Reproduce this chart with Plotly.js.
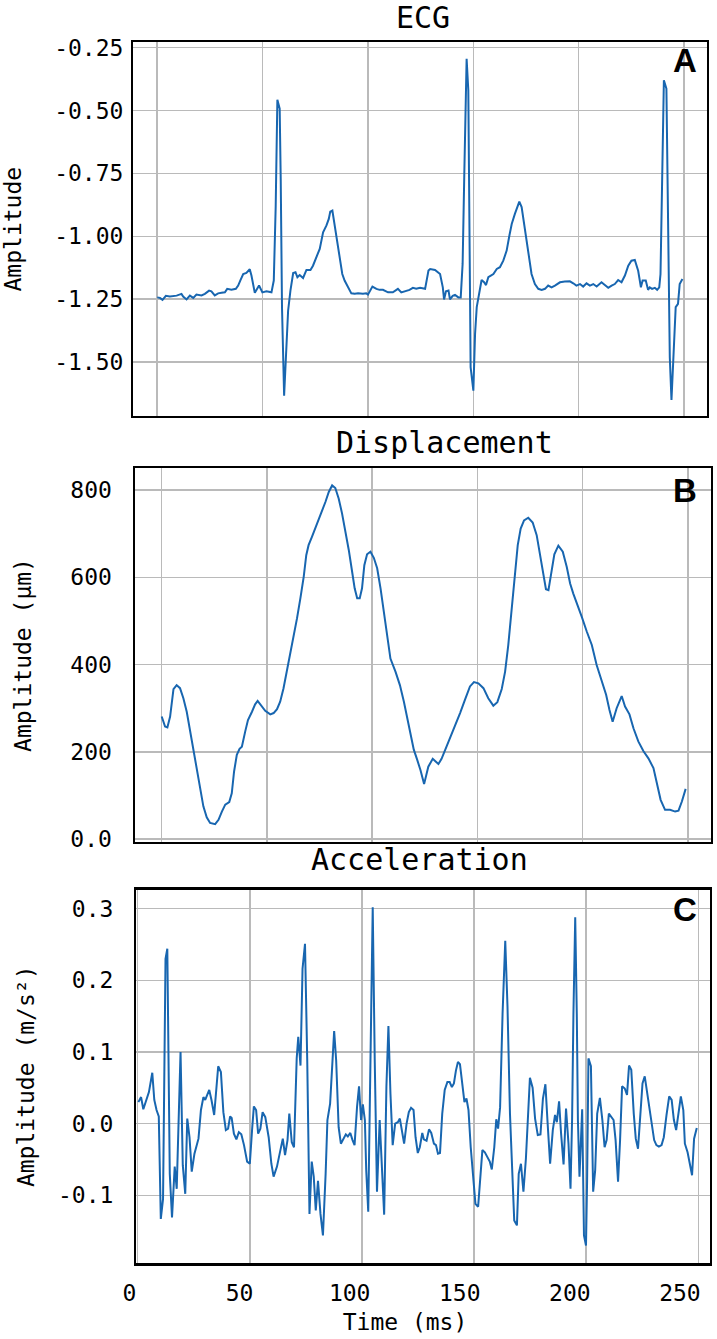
<!DOCTYPE html>
<html>
<head>
<meta charset="utf-8">
<script src="https://cdn.plot.ly/plotly-3.0.1.min.js"></script>
<style>html,body{margin:0;padding:0;background:#fff;}#chart{width:717px;height:1339px;}</style>
</head>
<body>
<div id="chart"></div>
<script>
// ---------- data ----------
const ecgTime = [0,1.3,2.5,4.1,6.0,9.2,11.5,12.3,13.9,15.5,17.1,18.6,21.0,22.6,24.6,25.7,27.3,28.9,30.5,32.1,33.2,35.2,37.3,38.4,39.5,40.8,42.3,43.9,44.7,46.3,48.3,49.9,51.8,54.2,55.3,56.2,57.0,58.1,58.6,59.2,60.2,61.3,62.1,63.2,64.5,65.6,66.5,67.6,69.2,70.8,72.7,73.9,75.5,77.1,78.7,80.3,81.4,82.1,83.1,83.7,85.0,86.6,87.8,88.9,90.5,92.1,93.7,95.3,97.6,99.2,100.0,102.1,104.0,105.5,107.1,109.5,111.8,114.2,115.8,117.4,119.7,121.3,122.9,124.7,127.1,128.7,129.5,131.8,134.2,135.5,136.1,137.0,138.2,138.9,140.2,141.3,142.9,144.0,144.9,145.7,146.8,147.6,148.1,148.7,150.0,150.8,151.6,152.8,153.9,155.1,156.0,157.1,158.2,159.5,161.1,162.6,164.2,165.8,167.1,168.2,169.7,170.9,171.8,172.9,174.5,176.1,177.6,179.2,180.8,182.4,184.0,185.5,187.1,188.7,191.1,193.4,195.8,197.4,198.9,200.6,202.1,203.7,205.3,206.9,208.5,210.8,212.4,214.0,215.6,217.1,218.7,220.3,221.9,223.5,225.0,226.6,228.2,229.5,230.3,231.8,232.9,233.7,234.8,236.1,237.2,238.2,238.8,239.6,240.4,241.6,242.4,243.2,244.0,245.1,246.0,247.1,247.9,249.2];
const ecgAmp = [-1.243,-1.245,-1.253,-1.237,-1.239,-1.236,-1.229,-1.240,-1.251,-1.236,-1.245,-1.232,-1.235,-1.229,-1.216,-1.219,-1.235,-1.227,-1.225,-1.223,-1.209,-1.213,-1.209,-1.196,-1.174,-1.150,-1.146,-1.131,-1.156,-1.225,-1.196,-1.223,-1.219,-1.223,-1.176,-0.884,-0.457,-0.493,-0.778,-1.282,-1.634,-1.415,-1.296,-1.216,-1.146,-1.143,-1.163,-1.154,-1.166,-1.134,-1.134,-1.117,-1.083,-1.050,-0.984,-0.957,-0.931,-0.902,-0.898,-0.931,-1.004,-1.083,-1.150,-1.176,-1.203,-1.227,-1.229,-1.227,-1.229,-1.227,-1.232,-1.200,-1.209,-1.213,-1.213,-1.223,-1.223,-1.209,-1.223,-1.219,-1.213,-1.205,-1.209,-1.205,-1.209,-1.136,-1.130,-1.134,-1.150,-1.203,-1.251,-1.219,-1.216,-1.251,-1.237,-1.233,-1.243,-1.243,-1.110,-0.752,-0.294,-0.420,-0.884,-1.521,-1.614,-1.389,-1.282,-1.229,-1.174,-1.183,-1.194,-1.163,-1.156,-1.150,-1.130,-1.123,-1.097,-1.057,-0.997,-0.951,-0.911,-0.878,-0.862,-0.884,-0.977,-1.083,-1.150,-1.190,-1.209,-1.213,-1.209,-1.196,-1.203,-1.196,-1.183,-1.180,-1.179,-1.187,-1.196,-1.190,-1.200,-1.187,-1.196,-1.190,-1.200,-1.183,-1.194,-1.205,-1.196,-1.190,-1.174,-1.183,-1.156,-1.117,-1.097,-1.094,-1.137,-1.203,-1.176,-1.176,-1.213,-1.203,-1.209,-1.205,-1.213,-1.203,-1.150,-0.752,-0.380,-0.413,-0.977,-1.481,-1.651,-1.415,-1.282,-1.269,-1.190,-1.170];

const dispTime = [0,1.6,2.7,4.0,5.6,7.1,8.7,10.3,11.9,13.5,15.1,16.7,18.3,19.8,21.4,23.0,25.4,27.0,28.6,30.2,32.1,33.3,34.4,35.7,37.0,38.1,39.7,41.0,42.9,44.4,45.6,46.8,49.2,51.6,53.2,54.8,56.3,57.9,59.5,61.1,62.7,64.3,65.9,67.5,68.7,69.8,71.4,73.0,74.6,76.2,77.8,79.4,81.0,82.5,84.1,85.7,87.3,88.9,90.5,91.7,92.9,94.1,95.2,96.3,97.6,99.2,100.8,102.4,104.0,105.6,107.1,108.7,111.1,113.2,115.1,116.7,118.3,119.8,121.4,123.0,124.7,126.7,128.8,130.3,131.5,133.0,135.4,138.6,141.8,144.1,146.5,148.4,150.5,152.9,155.2,157.6,159.5,161.6,163.2,164.7,166.3,167.9,169.2,170.6,172.2,174.2,176.3,178.2,179.8,181.4,182.6,183.8,185.0,186.6,188.5,190.6,192.5,194.1,195.6,197.7,199.6,202.0,204.4,206.7,209.1,211.2,212.8,214.3,216.2,218.6,220.2,222.3,224.2,226.5,228.9,231.3,233.7,235.6,237.1,239.2,241.6,244.0,245.6,247.2,249.0];
const dispAmp = [281,258,256,281,344,353,346,323,292,247,201,155,113,75,50,37,34,44,63,79,85,105,155,193,207,212,247,273,292,309,317,309,294,286,289,298,315,346,384,422,460,506,552,602,651,674,693,712,731,750,773,796,811,805,781,747,708,663,613,575,552,552,575,628,653,659,645,621,575,521,468,414,384,353,315,277,239,205,182,158,126,166,184,176,172,184,212,250,289,319,350,360,357,346,323,306,314,344,384,445,529,613,674,712,731,737,726,697,655,605,573,571,605,653,673,659,624,586,563,537,510,476,445,399,365,331,296,269,300,328,304,286,254,224,202,185,163,124,90,67,67,63,65,86,115];

const accTime = [0.3,1.5,2.5,4.0,5.0,6.5,7.4,8.4,9.4,10.3,11.3,12.4,13.2,14.3,15.3,16.5,17.4,19.1,20.1,21.2,22.1,23.1,24.1,25.3,27.1,28.2,29.3,30.1,31.9,32.9,34.1,35.9,37.1,38.2,39.3,40.3,41.2,41.9,42.9,44.0,45.1,46.2,47.4,48.8,50.0,51.0,51.8,52.8,53.7,54.7,55.7,56.9,58.4,59.6,60.6,62.1,63.5,64.7,65.7,66.8,67.6,68.7,69.7,70.9,71.6,72.6,73.5,74.6,75.6,76.6,77.6,78.5,79.4,80.4,81.5,82.6,83.8,84.6,85.8,86.6,87.6,88.5,89.6,90.6,91.8,92.8,93.7,94.8,95.8,96.7,97.8,98.7,99.6,100.4,101.3,101.9,102.8,103.7,104.8,105.7,106.7,107.9,109.0,109.9,110.9,111.8,112.7,113.7,114.8,116.0,116.9,117.9,118.8,119.9,120.9,121.9,123.0,123.9,124.9,125.8,126.9,127.6,128.8,129.9,130.9,132.1,133.0,133.9,134.8,135.8,136.9,138.1,139.1,140.1,141.0,141.9,142.8,143.7,144.8,145.7,146.6,147.5,148.5,149.6,150.6,151.8,152.7,153.7,154.8,156.0,157.0,157.9,159.0,159.9,160.7,161.6,162.7,163.9,164.9,166.0,167.0,167.9,169.1,169.9,170.9,172.0,173.1,173.9,174.9,176.1,177.2,178.4,179.6,180.7,181.8,182.8,183.9,185.1,186.1,186.9,187.9,188.8,189.9,191.0,192.1,193.0,193.7,194.3,195.1,195.8,196.3,197.0,198.2,199.0,199.9,200.4,201.0,202.1,203.1,204.0,204.9,206.1,207.2,208.2,209.1,210.1,211.2,212.2,213.1,214.2,215.1,216.0,217.2,218.2,219.1,220.1,221.2,222.1,223.1,224.2,225.1,226.1,227.2,228.4,229.4,230.3,231.3,232.4,233.6,234.6,235.8,237.0,238.1,239.1,240.1,241.3,242.2,243.3,244.0,245.2,246.3,247.2,248.1,249.3];
const accAmp = [0.030,0.037,0.020,0.033,0.044,0.071,0.033,0.019,0.010,-0.133,-0.105,0.230,0.244,-0.070,-0.131,-0.060,-0.091,0.100,-0.058,-0.098,0.007,-0.019,-0.067,-0.042,-0.021,0.019,0.037,0.033,0.047,0.033,0.012,0.080,0.072,0.016,-0.009,-0.007,0.010,0.008,-0.014,-0.022,-0.012,-0.015,-0.030,-0.053,-0.056,-0.009,0.024,0.019,-0.014,-0.007,0.016,0.009,-0.019,-0.056,-0.074,-0.060,-0.037,-0.021,-0.044,-0.023,0.014,-0.026,-0.033,0.091,0.121,0.081,0.216,0.251,0.088,-0.126,-0.053,-0.074,-0.121,-0.080,-0.126,-0.156,-0.070,0.005,0.028,0.079,0.129,0.088,-0.005,-0.028,-0.021,-0.015,-0.018,-0.013,-0.023,-0.030,0.023,0.052,0.005,0.027,0.005,-0.065,-0.123,0.051,0.302,0.088,-0.095,0.005,-0.060,-0.127,0.051,0.136,0.042,-0.030,0.000,0.002,0.007,-0.014,-0.028,0.000,0.016,0.022,0.019,-0.019,-0.041,-0.033,-0.013,-0.022,-0.024,-0.008,-0.013,-0.028,-0.030,-0.042,-0.041,0.014,0.047,0.058,0.058,0.051,0.056,0.074,0.086,0.083,0.056,0.030,0.035,0.019,-0.033,-0.081,-0.112,-0.116,-0.074,-0.037,-0.040,-0.047,-0.053,-0.064,-0.033,0.006,-0.007,0.023,0.153,0.255,0.163,0.014,-0.079,-0.135,-0.142,-0.070,-0.056,-0.095,-0.049,0.000,0.064,0.050,0.007,-0.016,-0.015,0.035,0.055,0.000,-0.056,-0.009,0.012,0.002,0.031,-0.014,-0.057,0.021,-0.028,-0.091,0.005,0.153,0.288,0.153,0.005,-0.074,0.020,-0.156,-0.170,-0.079,0.091,0.080,-0.095,-0.065,0.014,0.036,0.005,-0.033,-0.023,0.014,0.010,0.005,-0.023,-0.081,-0.023,0.052,0.049,0.040,0.081,0.075,0.014,-0.021,-0.035,0.012,0.056,0.066,0.044,0.019,-0.005,-0.023,-0.030,-0.032,-0.030,-0.019,0.012,0.038,0.033,0.005,-0.009,0.023,0.038,0.019,-0.028,-0.040,-0.058,-0.072,-0.021,-0.006];

// tick definitions
const timeTicks = [0, 50, 100, 150, 200, 250];
const timeTickText = ['0', '50', '100', '150', '200', '250'];
const ecgTicks = [-0.25, -0.5, -0.75, -1.0, -1.25, -1.5];
const ecgTickText = ['-0.25', '-0.50', '-0.75', '-1.00', '-1.25', '-1.50'];
const dispTicks = [0, 200, 400, 600, 800];
const dispTickText = ['0.0', '200', '400', '600', '800'];
const accTicks = [-0.1, 0, 0.1, 0.2, 0.3];
const accTickText = ['-0.1', '0.0', '0.1', '0.2', '0.3'];

const panelTitles = ['ECG', 'Displacement', 'Acceleration'];
const panelLetters = ['A', 'B', 'C'];
const yTitles = ['Amplitude', 'Amplitude (μm)', 'Amplitude (m/s²)'];
const xTitle = 'Time (ms)';

// ---------- styling ----------
const LINE = '#1866b0';
const GRID = '#bababa';
const MONO = 'DejaVu Sans Mono, monospace';
const tickFont = {family: MONO, size: 23, color: '#000'};
const axTitleFont = {family: MONO, size: 23, color: '#000'};
const titleFont = {family: MONO, size: 30, color: '#000'};
const letterFont = {family: 'Liberation Sans, Arial, sans-serif', size: 33, color: '#000'};

function trace(x, y, xa, ya) {
  return {x: x, y: y, xaxis: xa, yaxis: ya, type: 'scatter', mode: 'lines',
          line: {color: LINE, width: 2}, hoverinfo: 'skip', showlegend: false};
}

const baseX = {
  tickmode: 'array', tickvals: timeTicks, ticktext: timeTickText,
  showgrid: true, gridcolor: GRID, gridwidth: 1.5,
  showline: true, linecolor: '#000', linewidth: 2, mirror: true,
  ticks: '', zeroline: false, tickfont: tickFont
};
const baseY = {
  showgrid: true, gridcolor: GRID, gridwidth: 1.5,
  showline: true, linecolor: '#000', linewidth: 2, mirror: true,
  ticks: '', zeroline: false, tickfont: tickFont, tickmode: 'array'
};

// plot area starts at 120 px (margin.l); domains are fractions of the 592 px wide area
const domA = [0.02196, 0.99206], domB = [0.02618, 0.99780], domC = [0.02703, 0.99662];
const domLabels = [0.00845, 0.95439];

const layout = {
  width: 717, height: 1339,
  margin: {l: 120, r: 5, t: 42, b: 76},
  paper_bgcolor: '#ffffff', plot_bgcolor: 'rgba(0,0,0,0)',
  showlegend: false,
  xaxis: Object.assign({}, baseX, {domain: domA, range: [-11.5, 261.0], anchor: 'y', showticklabels: false}),
  yaxis: Object.assign({}, baseY, {domain: [0.6934, 1.0], range: [-1.716, -0.2277], anchor: 'x',
          tickvals: ecgTicks, ticktext: ecgTickText, ticklabelstandoff: 3,
          title: {text: yTitles[0], font: axTitleFont, standoff: 30}}),
  xaxis2: Object.assign({}, baseX, {domain: domB, range: [-12.45, 260.9], anchor: 'y2', showticklabels: false}),
  yaxis2: Object.assign({}, baseY, {domain: [0.345, 0.6509], range: [-6.2, 850.4], anchor: 'x2',
          tickvals: dispTicks, ticktext: dispTickText, ticklabelstandoff: 17,
          title: {text: yTitles[1], font: axTitleFont, standoff: 32}}),
  xaxis3: Object.assign({}, baseX, {domain: domC, range: [-0.76, 255.2], anchor: 'y3',
          linewidth: 2.5, showticklabels: false}),
  yaxis3: Object.assign({}, baseY, {domain: [0.0, 0.3058], range: [-0.1945, 0.3265], anchor: 'x3',
          tickvals: accTicks, ticktext: accTickText, ticklabelstandoff: 16,
          title: {text: yTitles[2], font: axTitleFont, standoff: 17}}),
  // time tick labels and title under panel C, placed where the reference prints them
  xaxis4: {domain: domLabels, range: [-2.04, 252.3], anchor: 'y4',
          tickmode: 'array', tickvals: timeTicks, ticktext: timeTickText,
          showgrid: false, showline: false, zeroline: false, ticks: '',
          tickfont: tickFont, ticklabelstandoff: 14, ticklabeloverflow: 'allow',
          title: {text: xTitle, font: axTitleFont, standoff: 8}},
  yaxis4: {domain: [0.0, 0.002], anchor: 'x4', visible: false, showgrid: false, zeroline: false, range: [0, 1]},
  annotations: [
    {text: panelTitles[0], xref: 'paper', yref: 'paper', x: 0.5118, y: 1.0202, xanchor: 'center', yanchor: 'middle', showarrow: false, font: titleFont},
    {text: panelTitles[1], xref: 'paper', yref: 'paper', x: 0.5473, y: 0.6722, xanchor: 'center', yanchor: 'middle', showarrow: false, font: titleFont},
    {text: panelTitles[2], xref: 'paper', yref: 'paper', x: 0.5051, y: 0.3306, xanchor: 'center', yanchor: 'middle', showarrow: false, font: titleFont},
    {text: '<b>' + panelLetters[0] + '</b>', xref: 'paper', yref: 'paper', x: 0.9552, y: 0.985, xanchor: 'center', yanchor: 'middle', showarrow: false, font: letterFont},
    {text: '<b>' + panelLetters[1] + '</b>', xref: 'paper', yref: 'paper', x: 0.9544, y: 0.6328, xanchor: 'center', yanchor: 'middle', showarrow: false, font: letterFont},
    {text: '<b>' + panelLetters[2] + '</b>', xref: 'paper', yref: 'paper', x: 0.9544, y: 0.2893, xanchor: 'center', yanchor: 'middle', showarrow: false, font: letterFont}
  ]
};

const data = [
  trace(ecgTime, ecgAmp, 'x', 'y'),
  trace(dispTime, dispAmp, 'x2', 'y2'),
  trace(accTime, accAmp, 'x3', 'y3'),
  // empty placeholder so the label axis under panel C is created (draws nothing)
  {x: [null], y: [null], xaxis: 'x4', yaxis: 'y4', type: 'scatter', mode: 'lines',
   hoverinfo: 'skip', showlegend: false, line: {color: LINE, width: 2}}
];

Plotly.newPlot('chart', data, layout, {staticPlot: true, displayModeBar: false});
</script>
</body>
</html>
